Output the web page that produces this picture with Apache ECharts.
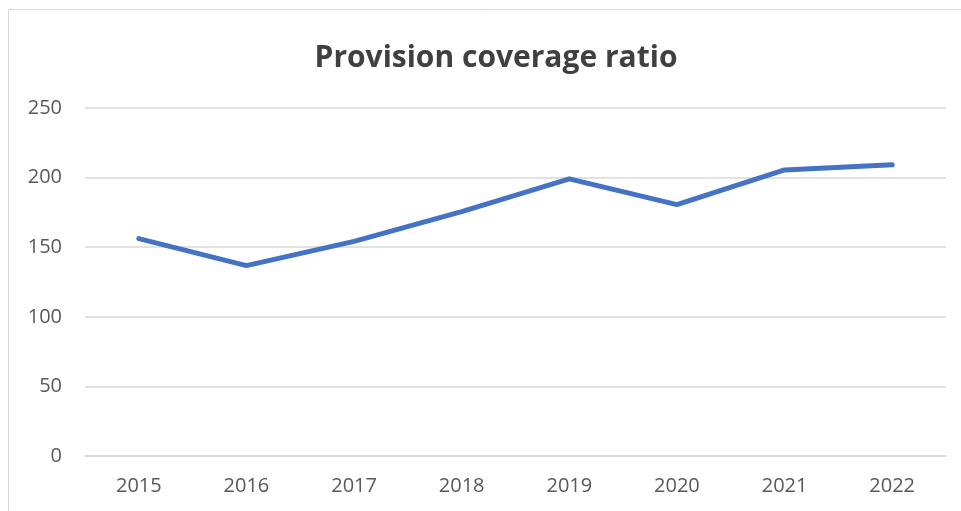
<!DOCTYPE html>
<html><head><meta charset="utf-8">
<script src="https://cdn.jsdelivr.net/npm/echarts@6/dist/echarts.min.js"></script>
<style>html,body{margin:0;padding:0;background:#fff}#c{width:961px;height:511px}</style>
</head><body><div id="c"></div>
<script>
const categories = ['2015','2016','2017','2018','2019','2020','2021','2022'];
const ratioValues = [156.2, 136.8, 154.2, 175.6, 199.1, 180.6, 205.5, 209.2];
const yTicks = [0, 50, 100, 150, 200, 250];

const chart = echarts.init(document.getElementById('c'), null, {renderer:'canvas'});
chart.setOption({
  backgroundColor:'#fff',
  animation:false,
  graphic:[{type:'rect',shape:{x:8.5,y:9.5,width:1000,height:1000},style:{fill:'none',stroke:'#d9d9d9',lineWidth:1}}],
  title:{text:'Provision coverage ratio',left:491,top:38,textAlign:'center',
    textStyle:{fontFamily:'Open Sans',fontWeight:'bold',fontSize:30,color:'#404040'}},
  grid:{left:85,right:15,top:108,bottom:55,containLabel:false},
  xAxis:{type:'category',data:categories,boundaryGap:true,
    axisLine:{show:true,lineStyle:{color:'#d9d9d9',width:1.5}},axisTick:{show:false},
    axisLabel:{color:'#595959',fontSize:20,fontFamily:'Open Sans',margin:20}},
  yAxis:{type:'value',min:yTicks[0],max:yTicks[yTicks.length-1],interval:yTicks[1]-yTicks[0],
    axisLine:{show:false},axisTick:{show:false},
    splitLine:{lineStyle:{color:'#d9d9d9',width:1.5}},
    axisLabel:{color:'#595959',fontSize:20,fontFamily:'Open Sans',margin:23}},
  series:[{type:'line',data:ratioValues,symbol:'none',
    lineStyle:{color:'#4472C4',width:5,cap:'round',join:'round'}}]
});
</script></body></html>
